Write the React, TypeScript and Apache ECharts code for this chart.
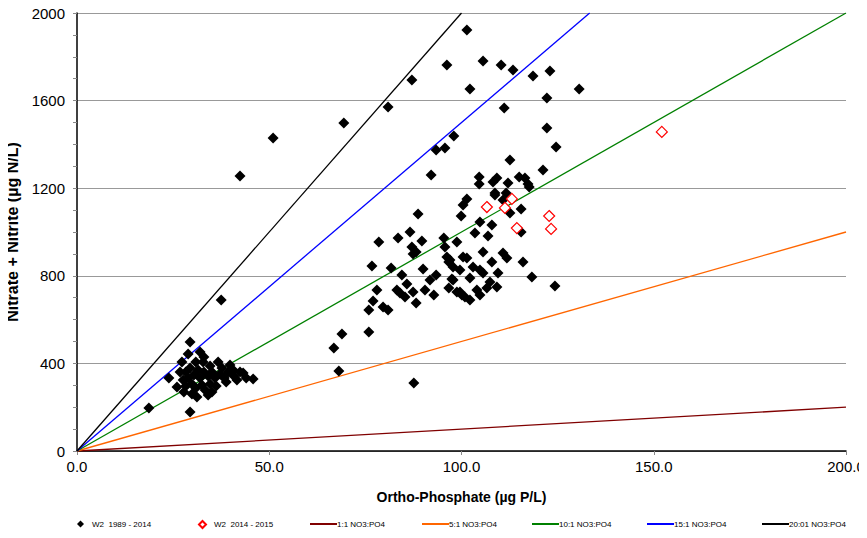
import React, { useEffect, useRef } from "react";
import * as echarts from "echarts";

// W2 samples, 1989 - 2014: [ortho-phosphate µg P/L, nitrate + nitrite µg N/L]
const w2Early: [number, number][] = [
  // low-concentration cluster
  [29.4, 498], [28.9, 443], [32.0, 452], [33.0, 429], [27.3, 406], [32.8, 406],
  [36.7, 406], [23.9, 333], [26.0, 292], [27.6, 324], [31.2, 247], [34.1, 256],
  [39.8, 393], [40.6, 370], [43.2, 356], [45.8, 329], [44.0, 333], [41.6, 324],
  [29.4, 178], [18.7, 196], [28.3, 361], [29.4, 379], [30.4, 347], [31.5, 370],
  [32.0, 333], [33.0, 361], [34.1, 342], [35.1, 361], [35.9, 333], [37.2, 352],
  [38.3, 333], [39.3, 361], [34.6, 388], [30.9, 406], [29.9, 306], [28.3, 297],
  [30.9, 288], [32.5, 301], [34.6, 306], [36.2, 297], [33.3, 279], [28.9, 333],
  [26.8, 361], [37.7, 379], [38.8, 315], [40.8, 342], [42.4, 361], [35.1, 269],
  [27.8, 269], [29.9, 260], [37.5, 689],
  // mid cluster
  [88.7, 1082], [86.6, 1000], [83.5, 973], [78.5, 954], [89.7, 959], [87.1, 932],
  [88.2, 909], [87.4, 900], [76.7, 845], [81.7, 836], [84.5, 804], [90.0, 831],
  [93.4, 804], [91.8, 781], [85.8, 763], [78.0, 735], [83.2, 735], [84.0, 721],
  [85.3, 703], [87.4, 726], [90.5, 735], [92.8, 712], [77.0, 685], [75.9, 644],
  [79.6, 658], [80.9, 644], [88.2, 676], [75.9, 543], [68.9, 534], [66.8, 470],
  [68.1, 365], [87.6, 311], [95.4, 973], [95.7, 932], [98.8, 954], [99.9, 1073],
  [96.2, 886], [96.7, 863], [97.8, 840], [97.5, 785], [96.7, 744], [98.8, 726],
  [100.1, 712], [100.4, 886],
  // right cluster
  [104.8, 1046], [107.9, 1032], [103.5, 995], [106.9, 982], [105.6, 909],
  [110.8, 904], [111.8, 881], [107.9, 863], [116.0, 863], [101.4, 881], [97.0, 872],
  [103.0, 840], [104.8, 826], [99.6, 826], [105.6, 813], [109.5, 813], [97.8, 781],
  [102.2, 790], [107.4, 772], [109.2, 749], [118.3, 795], [124.3, 753], [99.6, 726],
  [100.9, 703], [102.2, 689], [104.0, 735], [104.8, 712], [106.6, 744],
  [101.4, 1151], [100.4, 1123], [108.7, 1169], [110.8, 1146], [115.5, 1105],
  [112.6, 1087], [115.5, 1000],
  // upper scatter
  [42.4, 1256], [51.0, 1429], [69.4, 1498], [80.9, 1571], [87.1, 1694], [96.2, 1763],
  [101.4, 1922], [102.2, 1653], [98.0, 1438], [93.4, 1374], [95.7, 1384], [92.1, 1260],
  [105.6, 1781], [110.3, 1763], [113.4, 1740], [118.6, 1712], [123.0, 1735],
  [130.6, 1653], [122.2, 1612], [111.1, 1566], [122.2, 1475], [124.6, 1388],
  [112.6, 1329], [121.2, 1283], [104.6, 1251], [104.6, 1219], [108.2, 1228],
  [109.2, 1247], [112.1, 1224], [115.0, 1251], [116.5, 1247], [117.3, 1219],
  [108.7, 1178], [111.6, 1178], [117.6, 1205],
];

// W2 samples, 2014 - 2015
const w2Recent: [number, number][] = [
  [106.6, 1114], [111.3, 1110], [113.1, 1151], [114.4, 1018], [122.8, 1073],
  [123.3, 1014], [152.1, 1457],
];

// N:P reference ratios (nitrate : phosphate)
const ratioNames = ["1:1 NO3:PO4", "5:1 NO3:PO4", "10:1 NO3:PO4", "15:1 NO3:PO4", "20:01 NO3:PO4"];
const ratioValues = [1, 5, 10, 15, 20];
const ratioColors = ["#800000", "#FF6600", "#008000", "#0000FF", "#000000"];

const xMax = 200;
const yMax = 2000;

const FONT = "Arial, 'Liberation Sans', sans-serif";
const NARROW = "'Liberation Sans Narrow', 'Arial Narrow', Arial, 'Liberation Sans', sans-serif";

export default function App() {
  const ref = useRef<HTMLDivElement>(null);

  useEffect(() => {
    if (!ref.current) return;
    const chart = echarts.init(ref.current, null, { renderer: "svg" });

    const ratioSeries = ratioValues.map((r, i) => {
      const xEnd = Math.min(xMax, yMax / r);
      return {
        name: ratioNames[i],
        type: "line",
        data: [
          [0, 0],
          [xEnd, xEnd * r],
        ],
        showSymbol: false,
        symbol: "none",
        lineStyle: { color: ratioColors[i], width: 1.3 },
        itemStyle: { color: ratioColors[i] },
        z: 2,
      };
    });

    const legendLefts = [72, 193, 305, 417, 527, 642, 757];
    const legendNames = ["W2  1989 - 2014", "W2  2014 - 2015", ...ratioNames];
    const legends = legendNames.map((n, i) => ({
      data: [n],
      left: legendLefts[i],
      top: 515,
      orient: "horizontal",
      itemWidth: i < 2 ? 7 : 27,
      itemHeight: i < 2 ? 7 : 2,
      itemGap: 0,
      selectedMode: false,
      icon: i < 2 ? "diamond" : "rect",
      textStyle: { fontSize: 8, fontFamily: NARROW, color: "#000", padding: [0, 0, 0, i < 2 ? 3 : -5] },
    }));

    chart.setOption({
      animation: false,
      backgroundColor: "#fff",
      legend: legends,
      grid: {
        left: 77,
        right: 21,
        top: 13,
        bottom: 87,
        containLabel: false,
        outerBoundsMode: "none",
      },
      xAxis: {
        type: "value",
        min: 0,
        max: xMax,
        interval: 50,
        name: "Ortho-Phosphate (µg P/L)",
        nameLocation: "middle",
        nameGap: 39,
        nameTextStyle: { fontSize: 14, fontWeight: "bold", fontFamily: FONT, color: "#000" },
        axisLine: { show: true, onZero: false, lineStyle: { color: "#000", width: 1.5 } },
        axisTick: { show: true, length: 4, lineStyle: { color: "#888" } },
        axisLabel: {
          fontSize: 15,
          fontFamily: FONT,
          color: "#000",
          margin: 8,
          formatter: (v: number) => v.toFixed(1),
        },
        splitLine: { show: false },
      },
      yAxis: {
        type: "value",
        min: 0,
        max: yMax,
        interval: 400,
        name: "Nitrate + Nitrite (µg N/L)",
        nameLocation: "middle",
        nameGap: 54,
        nameTextStyle: { fontSize: 16, fontWeight: "bold", fontFamily: FONT, color: "#000" },
        axisLine: { show: true, onZero: false, lineStyle: { color: "#000", width: 1.5 } },
        axisTick: { show: true, length: 4, lineStyle: { color: "#888" } },
        minorTick: { show: true, splitNumber: 4, length: 4, lineStyle: { color: "#888" } },
        axisLabel: {
          fontSize: 15,
          fontFamily: FONT,
          color: "#000",
          margin: 12,
          formatter: (v: number) => String(v),
        },
        splitLine: { show: true, lineStyle: { color: "#999", width: 1 } },
      },
      series: [
        ...ratioSeries,
        {
          name: "W2  1989 - 2014",
          type: "scatter",
          data: w2Early,
          symbol: "diamond",
          symbolSize: 11,
          itemStyle: { color: "#000", opacity: 1 },
          z: 3,
        },
        {
          name: "W2  2014 - 2015",
          type: "scatter",
          data: w2Recent,
          symbol: "diamond",
          symbolSize: 11,
          itemStyle: { color: "#fff", borderColor: "#FF0000", borderWidth: 1.2, opacity: 1 },
          z: 4,
        },
      ],
    });

    return () => chart.dispose();
  }, []);

  return <div ref={ref} style={{ width: 867, height: 538, margin: -8 }} />;
}
